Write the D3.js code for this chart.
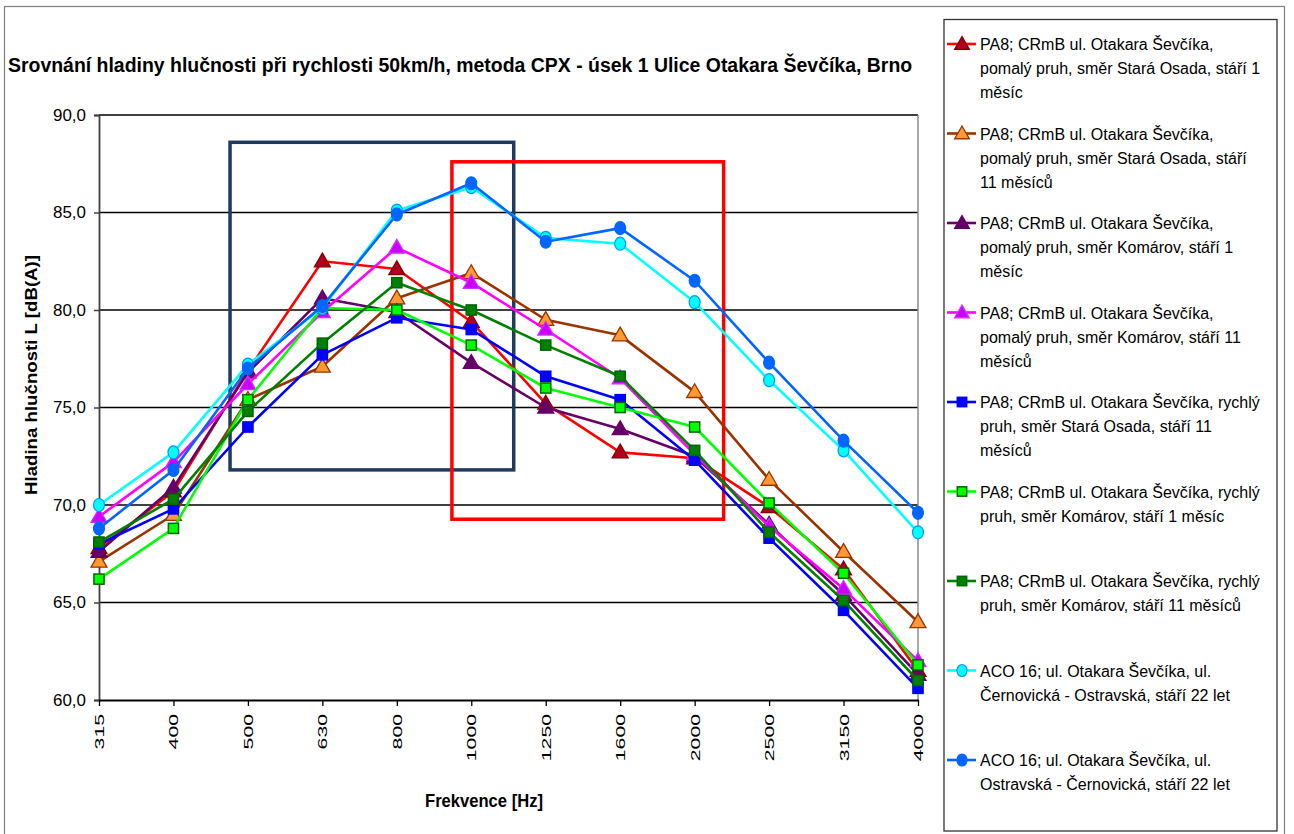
<!DOCTYPE html>
<html><head><meta charset="utf-8">
<script src="https://cdn.jsdelivr.net/npm/d3@7/dist/d3.min.js"></script>
<style>
html,body{margin:0;padding:0;background:#fff;}
svg{display:block;}
</style></head>
<body>
<svg id="c" width="1294" height="834"></svg>
<script>
const frequencies = ["315","400","500","630","800","1000","1250","1600","2000","2500","3150","4000"];
const yTicks = [60,65,70,75,80,85,90];

const s1 = [67.8, 70.7, 76.9, 82.5, 82.1, 79.4, 75.2, 72.7, 72.4, 69.9, 66.7, 61.5];
const s2 = [67.1, 69.5, 75.4, 77.1, 80.6, 81.9, 79.5, 78.7, 75.8, 71.3, 67.6, 64.0];
const s3 = [67.6, 70.9, 76.8, 80.6, 79.9, 77.3, 75.0, 73.9, 72.5, 69.0, 65.4, 61.3];
const s4 = [69.4, 72.2, 76.2, 79.9, 83.2, 81.4, 79.0, 76.5, 72.6, 68.9, 65.7, 62.0];
const s5 = [68.0, 69.8, 74.0, 77.7, 79.6, 79.0, 76.6, 75.4, 72.3, 68.3, 64.6, 60.6];
const s6 = [66.2, 68.8, 75.4, 80.1, 80.0, 78.2, 76.0, 75.0, 74.0, 70.1, 66.5, 61.8];
const s7 = [68.1, 70.3, 74.8, 78.3, 81.4, 80.0, 78.2, 76.6, 72.8, 68.6, 65.1, 61.0];
const s8 = [70.0, 72.7, 77.2, 80.1, 85.1, 86.3, 83.7, 83.4, 80.4, 76.4, 72.8, 68.6];
const s9 = [68.8, 71.8, 77.0, 80.2, 84.9, 86.5, 83.5, 84.2, 81.5, 77.3, 73.3, 69.6];

const seriesNames = [
  ["PA8; CRmB ul. Otakara Ševčíka,", "pomalý pruh, směr Stará Osada, stáří 1", "měsíc"],
  ["PA8; CRmB ul. Otakara Ševčíka,", "pomalý pruh, směr Stará Osada, stáří", "11 měsíců"],
  ["PA8; CRmB ul. Otakara Ševčíka,", "pomalý pruh, směr Komárov, stáří 1", "měsíc"],
  ["PA8; CRmB ul. Otakara Ševčíka,", "pomalý pruh, směr Komárov, stáří 11", "měsíců"],
  ["PA8; CRmB ul. Otakara Ševčíka, rychlý", "pruh, směr Stará Osada, stáří 11", "měsíců"],
  ["PA8; CRmB ul. Otakara Ševčíka, rychlý", "pruh, směr Komárov, stáří 1 měsíc"],
  ["PA8; CRmB ul. Otakara Ševčíka, rychlý", "pruh, směr Komárov, stáří 11 měsíců"],
  ["ACO 16; ul. Otakara Ševčíka, ul.", "Černovická - Ostravská, stáří 22 let"],
  ["ACO 16; ul. Otakara Ševčíka, ul.", "Ostravská - Černovická, stáří 22 let"]
];
const seriesValues = [s1,s2,s3,s4,s5,s6,s7,s8,s9];
const lineColors   = ["#FF0000","#993300","#660066","#FF00FF","#0000FF","#00FF00","#008000","#00FFFF","#0066FF"];
const markerFills  = ["#B00020","#FF9933","#660066","#CC00FF","#0000FF","#00FF00","#008000","#00FFFF","#0066FF"];
const markerStrokes= ["#800000","#993300","#660066","#CC33FF","#0000FF","#006600","#006600","#0099FF","#0066FF"];
const markerShapes = ["triangle","triangle","triangle","triangle","square","square","square","circle","circle"];

// highlight rectangles: [category-index from, to, value top, bottom]
const highlightBoxes = [
  {x0:1.76, x1:5.57, y0:88.6, y1:71.8, color:"#1F3A5F"},
  {x0:4.74, x1:8.39, y0:87.6, y1:69.27, color:"#FF0000"}
];

const title = "Srovnání hladiny hlučnosti při rychlosti 50km/h, metoda CPX - úsek 1 Ulice Otakara Ševčíka, Brno";
const yTitle = "Hladina hlučnosti L [dB(A)]";
const xTitle = "Frekvence [Hz]";

const FONT = "Liberation Sans, Arial, sans-serif";
const svg = d3.select("#c").attr("font-family",FONT);
svg.append("rect").attr("width",1294).attr("height",834).attr("fill","#fff");
// outer frame
svg.append("rect").attr("x",4.5).attr("y",6.5).attr("width",1280).attr("height",840)
  .attr("fill","none").attr("stroke","#7f7f7f").attr("stroke-width",1.2);

const L=99, R=918, T=115, B=700;
const x = d3.scalePoint().domain(frequencies).range([L,R]).padding(0);
const xi = d3.scaleLinear().domain([0,frequencies.length-1]).range([L,R]);
const y = d3.scaleLinear().domain([60,90]).range([B,T]);

// title (font size fitted so the natural width is ~910px)
const tt = svg.append("text").attr("x",8).attr("y",72)
  .attr("font-size",22).attr("font-weight","bold").attr("fill","#000").text(title);
const tw = tt.node().getComputedTextLength();
tt.attr("font-size", 22*905/tw);

// gridlines
svg.append("g").selectAll("line").data(yTicks.filter(d=>d>60)).join("line")
  .attr("x1",L).attr("x2",R).attr("y1",d=>y(d)).attr("y2",d=>y(d))
  .attr("stroke","#000").attr("stroke-width",1.6);
// right border of plot
svg.append("line").attr("x1",R).attr("x2",R).attr("y1",T).attr("y2",B).attr("stroke","#8c8c8c").attr("stroke-width",1.5);

// y axis
const ya = svg.append("g").attr("transform",`translate(${L},0)`)
  .call(d3.axisLeft(y).tickValues(yTicks).tickSize(5).tickPadding(8).tickFormat(d=>d3.format(".1f")(d).replace(".",",")));
ya.select(".domain").attr("stroke","#404040").attr("stroke-width",1.8);
ya.selectAll(".tick line").attr("stroke","#404040").attr("stroke-width",1.5);
ya.selectAll("text").attr("font-size",17).attr("fill","#000").attr("font-family",FONT)
  .attr("textLength",33).attr("lengthAdjust","spacingAndGlyphs");

// x axis
const xa = svg.append("g").attr("transform",`translate(0,${B})`)
  .call(d3.axisBottom(x).tickSize(6).tickSizeOuter(0).tickFormat(""));
xa.select(".domain").attr("stroke","#000").attr("stroke-width",2);
xa.selectAll(".tick line").attr("stroke","#000").attr("stroke-width",1.3);
svg.append("g").selectAll("text").data(frequencies).join("text")
  .attr("transform",d=>`translate(${x(d)+5},714) rotate(-90)`)
  .attr("text-anchor","end")
  .attr("font-size",13).attr("fill","#000")
  .attr("textLength",d=>d.length*11.8).attr("lengthAdjust","spacingAndGlyphs")
  .text(d=>d);

// axis titles
svg.append("text").attr("transform","translate(37,375) rotate(-90)").attr("text-anchor","middle")
  .attr("font-weight","bold").attr("font-size",16)
  .attr("textLength",240).attr("lengthAdjust","spacingAndGlyphs")
  .text(yTitle);
svg.append("text").attr("x",484).attr("y",807).attr("text-anchor","middle")
  .attr("font-weight","bold").attr("font-size",18)
  .attr("textLength",118).attr("lengthAdjust","spacingAndGlyphs").text(xTitle);

// highlight boxes
svg.append("g").selectAll("rect").data(highlightBoxes).join("rect")
  .attr("x",d=>xi(d.x0)).attr("y",d=>y(d.y0))
  .attr("width",d=>xi(d.x1)-xi(d.x0)).attr("height",d=>y(d.y1)-y(d.y0))
  .attr("fill","none").attr("stroke",d=>d.color).attr("stroke-width",3.5);

function marker(g, shape, fill, stroke, size){
  if(shape==="triangle"){
    g.append("path").attr("d",d3.symbol(d3.symbolTriangle, size*size*0.65)())
      .attr("transform","translate(0,1)").attr("fill",fill).attr("stroke",stroke).attr("stroke-width",1.3);
  } else if(shape==="square"){
    const s=size*0.78;
    g.append("rect").attr("x",-s/2).attr("y",-s/2).attr("width",s).attr("height",s)
      .attr("fill",fill).attr("stroke",stroke).attr("stroke-width",1.5);
  } else {
    g.append("ellipse").attr("rx",size*0.42).attr("ry",size*0.5)
      .attr("fill",fill).attr("stroke",stroke).attr("stroke-width",1.2);
  }
}

const line = d3.line().x((d,i)=>x(frequencies[i])).y(d=>y(d));
const plot = svg.append("g");
seriesValues.forEach((vals,k)=>{
  const g = plot.append("g");
  g.append("path").datum(vals).attr("d",line).attr("fill","none")
    .attr("stroke",lineColors[k]).attr("stroke-width",2.6).attr("stroke-linejoin","round");
  g.selectAll("g.m").data(vals).join("g").attr("class","m")
    .attr("transform",(d,i)=>`translate(${x(frequencies[i])},${y(d)})`)
    .each(function(){ marker(d3.select(this), markerShapes[k], markerFills[k], markerStrokes[k], 13); });
});

// legend
svg.append("rect").attr("x",944).attr("y",19.5).attr("width",333).attr("height",811.5)
  .attr("fill","#fff").attr("stroke","#333").attr("stroke-width",1.3);
const lg = svg.append("g");
seriesNames.forEach((lines,k)=>{
  const cy = 44 + k*89.5;
  const g = lg.append("g");
  g.append("line").attr("x1",947).attr("x2",976).attr("y1",cy).attr("y2",cy)
    .attr("stroke",lineColors[k]).attr("stroke-width",2.6);
  const m = g.append("g").attr("transform",`translate(962,${cy})`);
  marker(m, markerShapes[k], markerFills[k], markerStrokes[k], 12);
  lines.forEach((ln,j)=>{
    g.append("text").attr("x",980).attr("y",cy+6+j*24)
      .attr("font-size",16).attr("fill","#000").text(ln);
  });
});
</script>
</body></html>
